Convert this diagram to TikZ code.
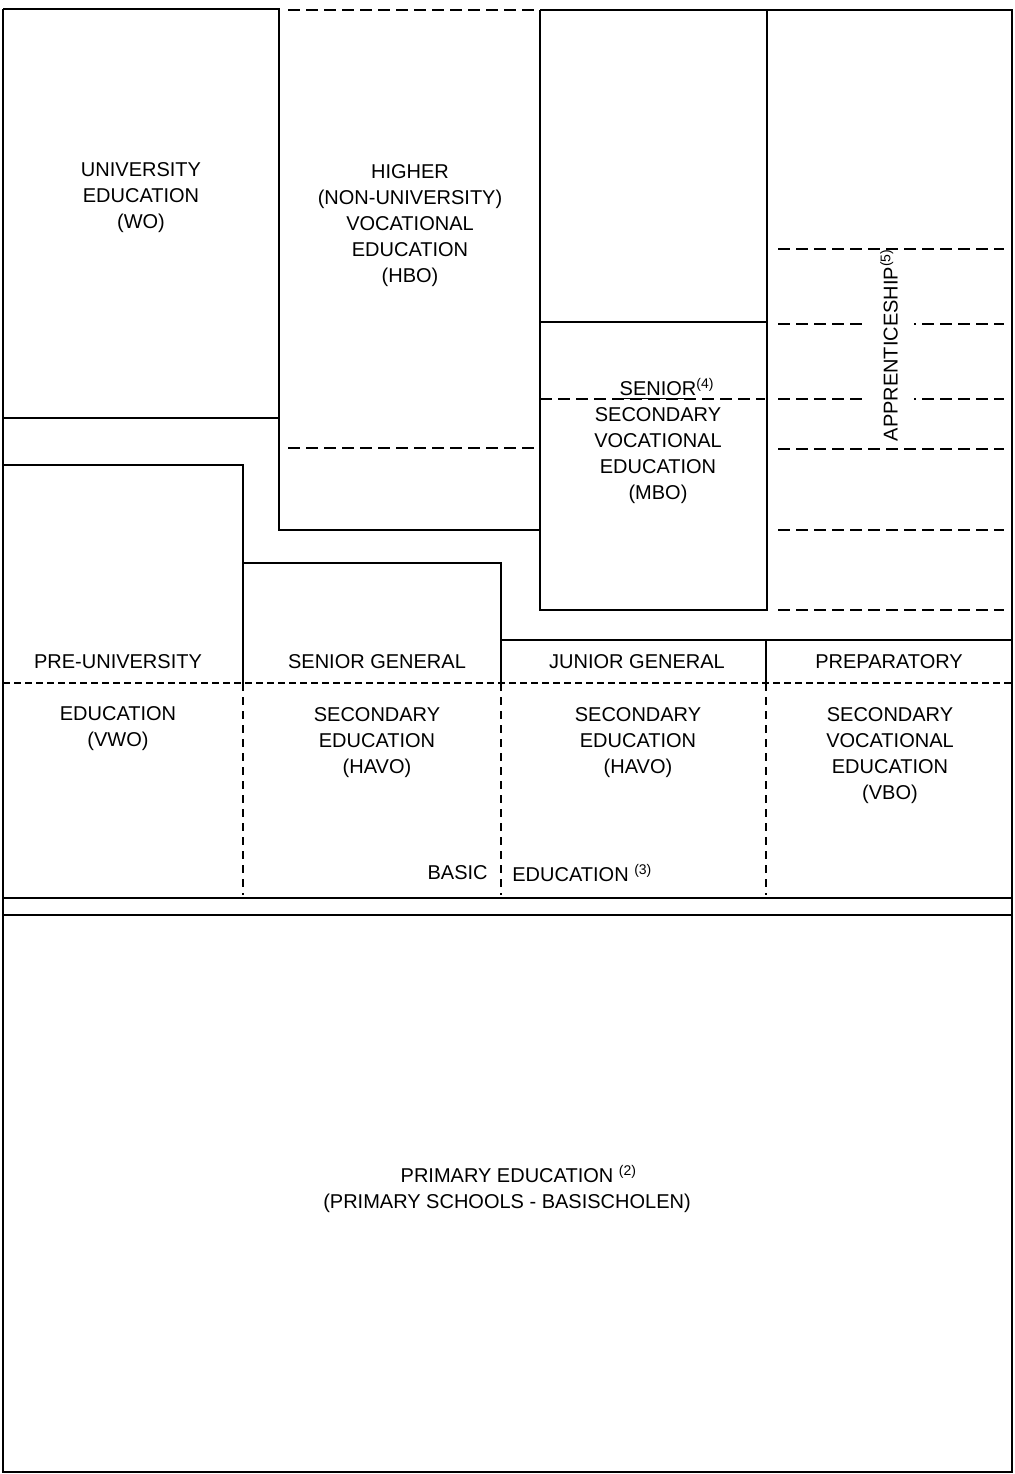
\documentclass[tikz,border=0pt]{standalone}
\usepackage{fontspec}
\setmainfont{Liberation Sans}

\begin{document}
\begin{tikzpicture}[x=0.5pt, y=-0.5pt, font=\fontsize{10}{13}\selectfont]
	\tikzstyle {wall}  = [draw=black, line width=0.7pt]
	\tikzstyle {cut}   = [draw=black, line width=1pt, dash pattern=on 6pt off 3pt]
	\tikzstyle {split} = [draw=black, line width=0.9pt, dash pattern=on 3.5pt off 2pt]
	\tikzstyle {track} = [draw=black, line width=0.7pt, dash pattern=on 4pt off 3pt]
	\tikzstyle {level} = [align=center, inner sep=0pt]

	\useasboundingbox (0,0) rectangle (1014,1474);

	% outer frame
	\draw[wall] (3,9) -- (3,1472) -- (1012,1472) -- (1012,10) -- (540,10);

	% WO and HBO
	\draw[wall] (3,9) -- (279,9) -- (279,530) -- (540,530);
	\draw[wall] (3,418) -- (279,418);
	\draw[cut] (288,10) -- (537,10);
	\draw[cut] (288,448) -- (537,448);

	% MBO column
	\draw[wall] (540,10) -- (540,610) -- (767,610) -- (767,10);
	\draw[wall] (540,322) -- (767,322);
	\draw[cut] (540,399) -- (765,399);

	% apprenticeship
	\draw[cut] (778,249) -- (1004,249);
	\draw[cut] (778,324) -- (1004,324);
	\draw[cut] (778,399) -- (1004,399);
	\draw[cut] (778,449) -- (1004,449);
	\draw[cut] (778,530) -- (1004,530);
	\draw[cut] (778,610) -- (1004,610);

	% secondary blocks
	\draw[wall] (3,465) -- (243,465) -- (243,683);
	\draw[wall] (243,563) -- (501,563) -- (501,683);
	\draw[wall] (501,640) -- (1012,640);
	\draw[wall] (766,640) -- (766,683);
	\draw[split] (3,683) -- (1012,683);
	\draw[track] (243,683) -- (243,895);
	\draw[track] (501,683) -- (501,895);
	\draw[track] (766,683) -- (766,895);
	\draw[wall] (3,898) -- (1012,898);
	\draw[wall] (3,915) -- (1012,915);

	% labels, higher education
	\node[level] (wo) at (141,198) {UNIVERSITY\\EDUCATION\\(WO)};
	\node[level] (hbo) at (410,226) {HIGHER\\(NON-UNIVERSITY)\\VOCATIONAL\\EDUCATION\\(HBO)};
	\node[level] (mbo) at (658,441) {\underline{SENIOR}\rlap{\textsuperscript{(4)}}\\SECONDARY\\VOCATIONAL\\EDUCATION\\(MBO)};
	\node[level, rotate=90, fill=white, inner xsep=1pt, inner ysep=8pt] (app) at (889,354) {APPRENTICESHIP\rlap{\textsuperscript{(5)}}};

	% labels, secondary education
	\node[level] (vwo-1) at (118,662) {PRE-UNIVERSITY};
	\node[level] (vwo-2) at (118,729) {EDUCATION\\(VWO)};
	\node[level] (havo-1) at (377,662) {SENIOR GENERAL};
	\node[level] (havo-2) at (377,743) {SECONDARY\\EDUCATION\\(HAVO)};
	\node[level] (mavo-1) at (637,662) {JUNIOR GENERAL};
	\node[level] (mavo-2) at (638,743) {SECONDARY\\EDUCATION\\(HAVO)};
	\node[level] (vbo-1) at (889,662) {PREPARATORY};
	\node[level] (vbo-2) at (890,756) {SECONDARY\\VOCATIONAL\\EDUCATION\\(VBO)};
	\node[level, anchor=east] (basic-1) at (488,873) {BASIC};
	\node[level, anchor=west] (basic-2) at (512,873) {EDUCATION \textsuperscript{(3)}};

	% primary education
	\node[level] (primary) at (507,1189) {PRIMARY EDUCATION\rlap{ \textsuperscript{(2)}}\\(PRIMARY SCHOOLS - BASISCHOLEN)};
\end{tikzpicture}
\end{document}
